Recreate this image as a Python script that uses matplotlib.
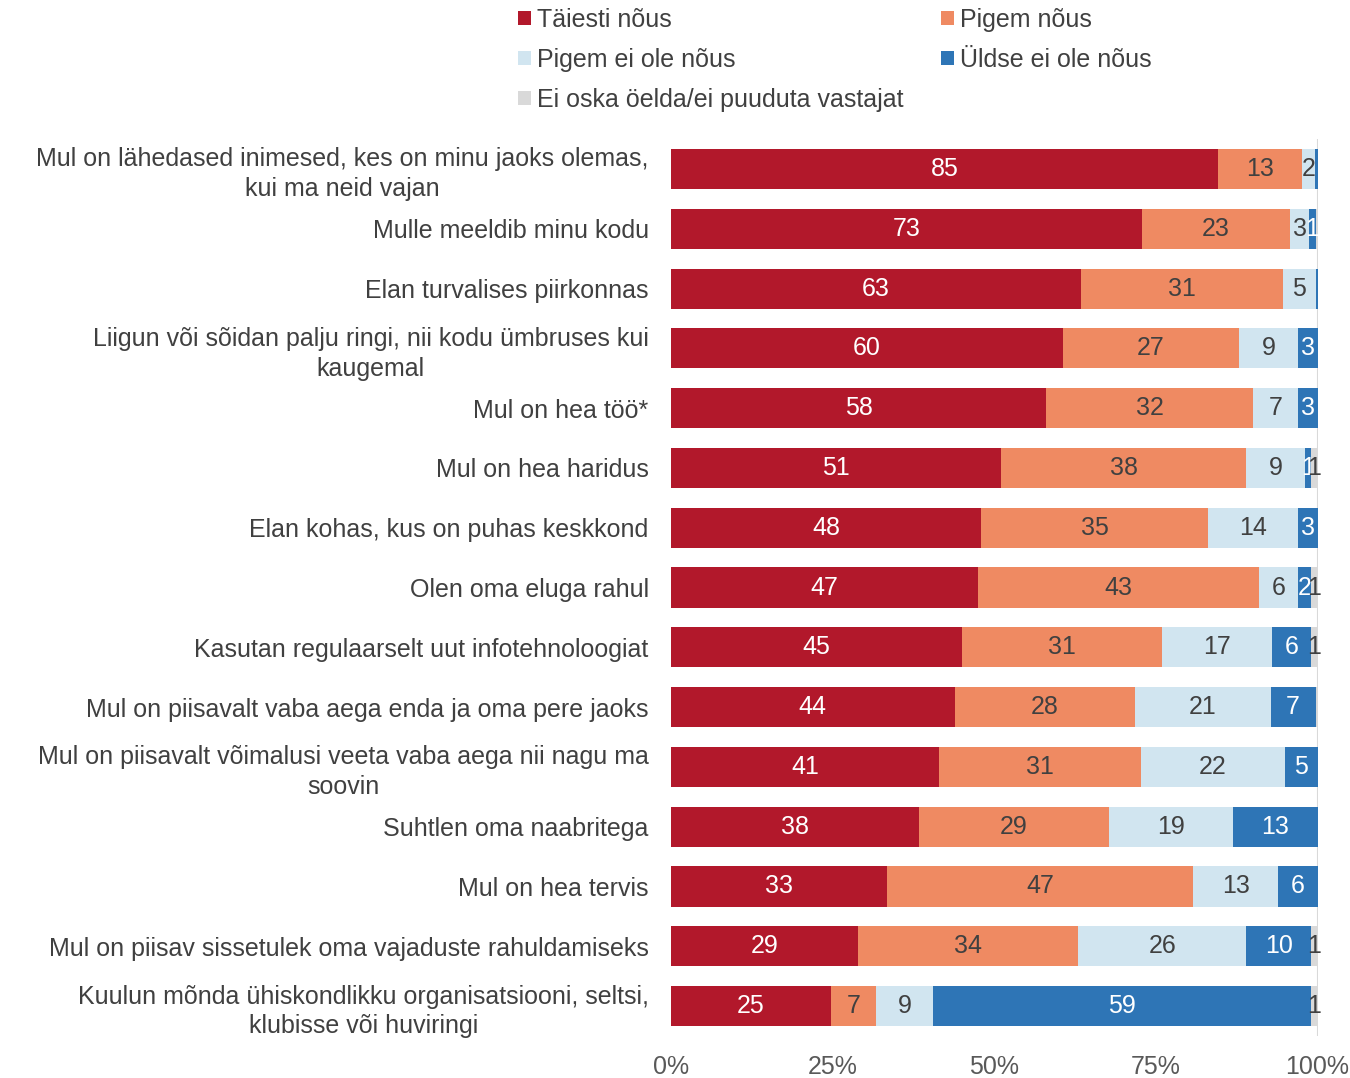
import numpy as np
import matplotlib
matplotlib.use("Agg")
from matplotlib import pyplot as plt

plt.rcParams['font.family'] = ['Liberation Sans', 'DejaVu Sans']

# statements, top to bottom
categories = [
    "Mul on lähedased inimesed, kes on minu jaoks olemas,\nkui ma neid vajan",
    "Mulle meeldib minu kodu",
    "Elan turvalises piirkonnas",
    "Liigun või sõidan palju ringi, nii kodu ümbruses kui\nkaugemal",
    "Mul on hea töö*",
    "Mul on hea haridus",
    "Elan kohas, kus on puhas keskkond",
    "Olen oma eluga rahul",
    "Kasutan regulaarselt uut infotehnoloogiat",
    "Mul on piisavalt vaba aega enda ja oma pere jaoks",
    "Mul on piisavalt võimalusi veeta vaba aega nii nagu ma\nsoovin",
    "Suhtlen oma naabritega",
    "Mul on hea tervis",
    "Mul on piisav sissetulek oma vajaduste rahuldamiseks",
    "Kuulun mõnda ühiskondlikku organisatsiooni, seltsi,\nklubisse või huviringi",
]

series_names = ["Täiesti nõus", "Pigem nõus", "Pigem ei ole nõus",
                "Üldse ei ole nõus", "Ei oska öelda/ei puuduta vastajat"]

# percentages (values under 0.5 are thin unlabeled slivers)
taiesti = [85, 73, 63, 60, 58, 51, 48, 47, 45, 44, 41, 38, 33, 29, 25]
pigem = [13, 23, 31, 27, 32, 38, 35, 43, 31, 28, 31, 29, 47, 34, 7]
pigem_ei = [2, 3, 5, 9, 7, 9, 14, 6, 17, 21, 22, 19, 13, 26, 9]
uldse = [0.4, 1, 0.3, 3, 3, 1, 3, 2, 6, 7, 5, 13, 6, 10, 59]
ei_oska = [0, 0.3, 0, 0, 0, 1, 0, 1, 1, 0.3, 0, 0, 0, 1, 1]

colors = ["#B2182B", "#EF8A62", "#D1E5F0", "#2E75B6", "#D9D9D9"]
label_colors = ["white", "#404040", "#404040", "white", "#404040"]

data = np.array([taiesti, pigem, pigem_ei, uldse, ei_oska], dtype=float)
pct = data / data.sum(axis=0) * 100

fs = 18

fig = plt.figure(figsize=(13.5, 10.78), dpi=100)
ax = fig.add_axes([0.497, 0.039, 0.479, 0.832])

y = np.arange(len(categories))
left = np.zeros(len(categories))
handles = []
for i, name in enumerate(series_names):
    bars = ax.barh(y, pct[i], left=left, height=0.67, color=colors[i], label=name)
    handles.append(bars)
    for j, b in enumerate(bars):
        v = int(round(data[i][j]))
        if v >= 1:
            ax.text(left[j] + pct[i][j] / 2, y[j], str(v), ha="center", va="center",
                    fontsize=fs, color=label_colors[i])
    left += pct[i]

ax.axvline(100, color="#D9D9D9", lw=1.5, zorder=0)
ax.set_xlim(0, 100)
ax.set_ylim(len(categories) - 0.5, -0.5)
ax.set_xticks([0, 25, 50, 75, 100])
ax.set_xticklabels(["0%", "25%", "50%", "75%", "100%"], fontsize=fs, color="#595959")
ax.set_yticks(y)
ax.set_yticklabels(categories, fontsize=fs, color="#404040", multialignment="center",
                   linespacing=1.3)
ax.tick_params(length=0)
ax.tick_params(axis="y", pad=16)
ax.tick_params(axis="x", pad=14)
for s in ax.spines.values():
    s.set_visible(False)

order = [0, 2, 4, 1, 3]
fig.legend([handles[k] for k in order], [series_names[k] for k in order],
           ncol=2, loc="upper left", bbox_to_anchor=(0.384, 0.993), frameon=False,
           fontsize=fs, labelcolor="#404040", handlelength=0.5, handleheight=0.5,
           handletextpad=0.25, columnspacing=1.5, labelspacing=0.65,
           borderpad=0.0, borderaxespad=0.0)

fig.savefig("out.png", dpi=100)
